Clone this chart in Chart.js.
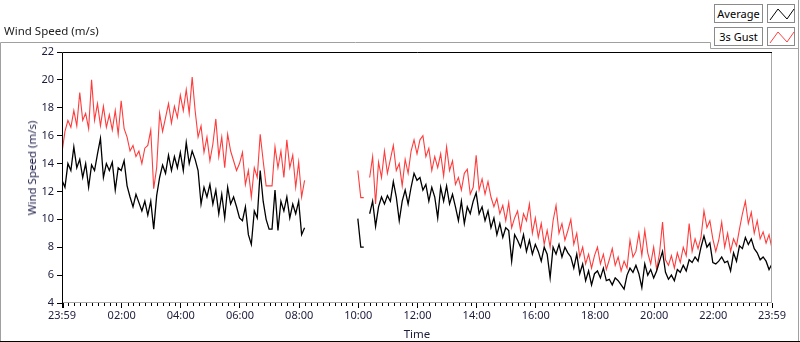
<!DOCTYPE html>
<html><head><meta charset="utf-8">
<script src="https://cdn.jsdelivr.net/npm/chart.js@4.4.1/dist/chart.umd.min.js"></script>
<style>
html,body{margin:0;padding:0;background:#fff;}
#wrap{position:relative;width:800px;height:342px;overflow:hidden;font-family:"Noto Sans",sans-serif;}
#c{position:absolute;left:0;top:0;}
.t{position:absolute;white-space:nowrap;line-height:14px;font-weight:normal;}
.lg{position:absolute;box-sizing:border-box;border:1px solid #8a8a8a;background:#fff;font-size:11px;line-height:17px;text-align:center;color:#000;white-space:nowrap;}
.ic{position:absolute;box-sizing:border-box;border:1px solid #8a8a8a;background:#fff;}
.ic svg{position:absolute;left:0;top:0;}
</style></head><body>
<div id="wrap">
<canvas id="c" width="800" height="342"></canvas>
<div class="t" style="left:4px;top:24px;font-size:11.5px;color:#222;">Wind Speed (m/s)</div>
<div class="t" style="left:32px;top:168px;font-size:11.5px;color:#1e1e4a;transform:translate(-50%,-50%) rotate(-90deg);">Wind Speed (m/s)</div>
<div class="t" style="left:417px;top:334px;font-size:11.5px;color:#1c1c3c;transform:translate(-50%,-50%);">Time</div>
<div class="lg" style="left:714px;top:4px;width:49px;height:19px;">Average</div>
<div class="ic" style="left:767px;top:4px;width:28px;height:19px;"><svg width="28" height="19"><polyline points="2,15 10,4 19,14 26,4" fill="none" stroke="#000" stroke-width="1"/></svg></div>
<div class="lg" style="left:714px;top:27px;width:49px;height:19px;">3s Gust</div>
<div class="ic" style="left:767px;top:27px;width:28px;height:19px;"><svg width="28" height="19"><polyline points="2,15 10,4 19,14 26,4" fill="none" stroke="#ff4040" stroke-width="1"/></svg></div>
</div>
<script>
// sampling of the time axis (minutes after 00:00; first sample is 23:59 of the previous day)
const START_MIN = -1;
const STEP_MIN = 6;

const tickValues = [-1,120,240,360,480,600,720,840,960,1080,1200,1320,1439];
const tickLabels = ["23:59","02:00","04:00","06:00","08:00","10:00","12:00","14:00","16:00","18:00","20:00","22:00","23:59"];
const yTicks = [4,6,8,10,12,14,16,18,20,22];

const gust = [
14.8,16.3,17.1,16.6,17.8,16.7,19.1,17.1,17.6,16.5,
20.0,17.1,18.3,16.7,18.1,16.6,17.5,16.4,17.8,16.1,
18.5,16.5,15.9,14.9,15.3,14.5,14.9,14.0,15.1,15.3,
16.4,12.2,13.7,17.6,16.3,17.3,18.3,16.9,18.1,17.3,
18.9,17.8,19.3,17.6,20.2,17.8,15.9,16.7,14.8,15.9,
14.2,15.4,17.2,14.5,15.9,13.7,16.1,14.9,14.2,13.5,
14.0,14.8,12.5,13.5,11.6,13.7,13.0,16.1,14.2,12.4,
12.4,12.4,15.2,13.7,14.9,13.0,15.7,13.7,14.6,12.3,
14.1,11.6,12.8,null,null,null,null,null,null,null,
null,null,null,null,null,null,null,null,null,null,
13.5,11.56,11.56,null,13.0,14.5,11.1,14.1,13.0,14.9,
13.3,14.3,15.3,13.5,14.0,12.4,14.3,13.3,14.9,15.7,
14.7,15.7,16.0,14.5,15.1,13.5,14.5,13.7,14.7,13.1,
15.2,13.5,14.2,12.5,13.0,12.1,13.3,13.6,11.8,12.3,
14.6,12.1,12.9,11.8,12.7,11.6,10.9,11.5,10.4,11.0,
9.9,11.2,9.4,10.1,10.6,9.2,10.4,9.9,11.1,9.0,
10.1,8.7,9.7,8.2,9.2,8.0,9.9,11.0,9.0,9.7,
8.5,9.2,10.0,8.2,9.0,7.3,8.0,6.8,7.5,6.5,
7.4,8.0,6.8,7.5,6.4,7.1,7.9,6.7,7.3,6.3,
7.0,6.5,8.5,7.3,7.7,9.0,7.4,9.2,7.6,6.8,
8.0,6.4,7.6,9.8,7.1,6.7,7.4,6.5,7.6,6.9,
8.0,7.4,9.7,7.7,8.6,7.9,8.7,10.6,9.4,9.9,
8.6,7.7,8.5,9.8,8.0,9.0,7.7,8.6,8.1,9.3,
10.4,11.3,9.7,10.5,9.0,9.9,8.6,9.1,8.3,8.9,
7.9];

const avg = [
12.8,12.3,14.0,13.5,15.2,13.7,14.3,13.0,14.0,12.3,
13.9,13.5,14.7,15.8,13.0,14.0,13.5,14.1,12.1,13.7,
13.5,14.2,12.4,11.6,10.9,11.8,11.2,10.6,11.3,10.3,
11.3,9.3,11.7,13.0,13.9,13.3,14.6,13.5,14.5,13.7,
14.8,13.5,15.5,14.0,14.9,14.3,13.5,11.1,12.3,11.6,
12.5,11.1,12.1,10.4,11.8,10.1,12.3,11.1,11.6,10.9,
10.1,9.9,10.9,8.9,8.2,10.6,10.1,13.5,11.3,10.0,
9.3,9.3,12.1,9.2,11.3,10.6,11.6,10.1,11.1,10.4,
11.3,8.9,9.4,null,null,null,null,null,null,null,
null,null,null,null,null,null,null,null,null,null,
10.05,8.0,8.0,null,10.4,11.3,9.5,10.9,11.6,11.1,
11.7,11.3,12.7,11.6,9.9,11.3,12.1,11.1,12.3,13.3,
12.8,13.0,12.1,12.5,11.3,12.3,11.6,10.1,12.3,11.3,
12.4,11.1,11.8,10.9,9.9,11.3,9.7,10.9,10.4,11.3,
11.9,10.4,10.9,9.9,10.6,9.4,10.1,8.9,9.7,8.7,
9.4,9.2,7.0,8.9,8.5,8.0,8.9,7.7,8.5,7.5,
8.2,7.7,7.0,8.0,7.5,5.8,8.0,7.5,8.2,7.3,
8.0,7.6,7.3,6.5,7.5,6.1,6.8,5.6,6.3,5.3,
6.1,6.3,5.8,6.5,5.6,5.7,5.3,5.8,5.6,5.3,
5.0,6.0,6.5,6.2,6.7,6.1,5.1,6.8,6.0,6.4,
5.8,6.3,7.0,7.7,6.2,5.7,6.0,5.6,6.4,6.2,
6.7,6.3,7.1,6.9,7.3,7.0,8.0,8.8,8.0,8.3,
6.9,6.8,7.0,7.3,6.9,7.0,6.3,7.6,7.0,8.1,
7.9,8.7,8.2,8.6,7.9,7.6,7.1,7.3,7.0,6.4,
6.8];

const times = gust.map((_, i) => START_MIN + STEP_MIN * i);
const toPts = arr => arr.map((v, i) => ({x: times[i], y: v}));

Chart.defaults.font.family = '"Noto Sans", sans-serif';

const framePlugin = {
  id: 'frame',
  beforeDraw(chart) {
    const ctx = chart.ctx;
    ctx.save();
    ctx.fillStyle = '#fff';
    ctx.fillRect(0, 0, chart.width, chart.height);
    ctx.lineWidth = 1;
    ctx.strokeStyle = '#a0a0a0';
    ctx.beginPath();
    ctx.moveTo(0.5, 341); ctx.lineTo(0.5, 42.5); ctx.lineTo(710.5, 42.5); ctx.lineTo(710.5, 48.5); ctx.lineTo(798.5, 48.5);
    ctx.moveTo(798.5, 0); ctx.lineTo(798.5, 341);
    ctx.stroke();
    ctx.strokeStyle = '#000';
    ctx.beginPath(); ctx.moveTo(0, 341.5); ctx.lineTo(800, 341.5); ctx.stroke();
    ctx.restore();
  },
  afterDatasetsDraw(chart) {
    const ctx = chart.ctx, a = chart.chartArea, xs = chart.scales.x;
    ctx.save();
    ctx.lineWidth = 1;
    ctx.strokeStyle = '#a8a8a8';
    ctx.beginPath();
    ctx.moveTo(a.right - 0.5, a.top); ctx.lineTo(a.right - 0.5, a.bottom);
    ctx.moveTo(a.left, a.bottom - 0.5); ctx.lineTo(a.right, a.bottom - 0.5);
    ctx.stroke();
    ctx.strokeStyle = '#000';
    ctx.beginPath();
    ctx.moveTo(a.left + 0.5, a.bottom); ctx.lineTo(a.left + 0.5, a.top + 0.5); ctx.lineTo(a.right, a.top + 0.5);
    ctx.stroke();
    ctx.beginPath();
    for (let m = 12; m < 1439; m += 12) {
      if (m % 120 === 0) continue;
      const px = Math.round(xs.getPixelForValue(m)) + 0.5;
      ctx.moveTo(px, a.bottom); ctx.lineTo(px, a.bottom + 3);
    }
    ctx.stroke();
    ctx.fillStyle = '#000';
    ctx.fillRect(a.left, a.bottom, 2, 5);
    ctx.restore();
  }
};

new Chart(document.getElementById('c'), {
  type: 'line',
  data: {
    datasets: [
      {label: 'Average', data: toPts(avg), borderColor: '#000', borderWidth: 1.3, pointRadius: 0, tension: 0, spanGaps: false, fill: false},
      {label: '3s Gust', data: toPts(gust), borderColor: '#ff3c3c', borderWidth: 1.1, pointRadius: 0, tension: 0, spanGaps: false, fill: false}
    ]
  },
  options: {
    responsive: false,
    animation: false,
    devicePixelRatio: 1,
    layout: {padding: {top: 52, right: 28, left: 0, bottom: 0}},
    plugins: {legend: {display: false}, tooltip: {enabled: false}},
    scales: {
      x: {
        type: 'linear', min: -1, max: 1439,
        afterBuildTicks: s => { s.ticks = tickValues.map(v => ({value: v})); },
        afterFit: s => { s.height = 39; },
        ticks: {autoSkip: false, maxRotation: 0, minRotation: 0, padding: 1, color: '#1c1c3c', font: {size: 11},
                callback: (v, i) => tickLabels[i]},
        grid: {drawOnChartArea: false, drawTicks: true, tickLength: 5, color: '#000'},
        border: {display: false}
      },
      y: {
        min: 4, max: 22,
        afterBuildTicks: s => { s.ticks = yTicks.map(v => ({value: v})); },
        afterFit: s => { s.width = 62; },
        ticks: {padding: 3, color: '#1c1c3c', font: {size: 11}},
        grid: {drawOnChartArea: false, drawTicks: true, tickLength: 5, color: '#000'},
        border: {display: false}
      }
    }
  },
  plugins: [framePlugin]
});
</script>
</body></html>
